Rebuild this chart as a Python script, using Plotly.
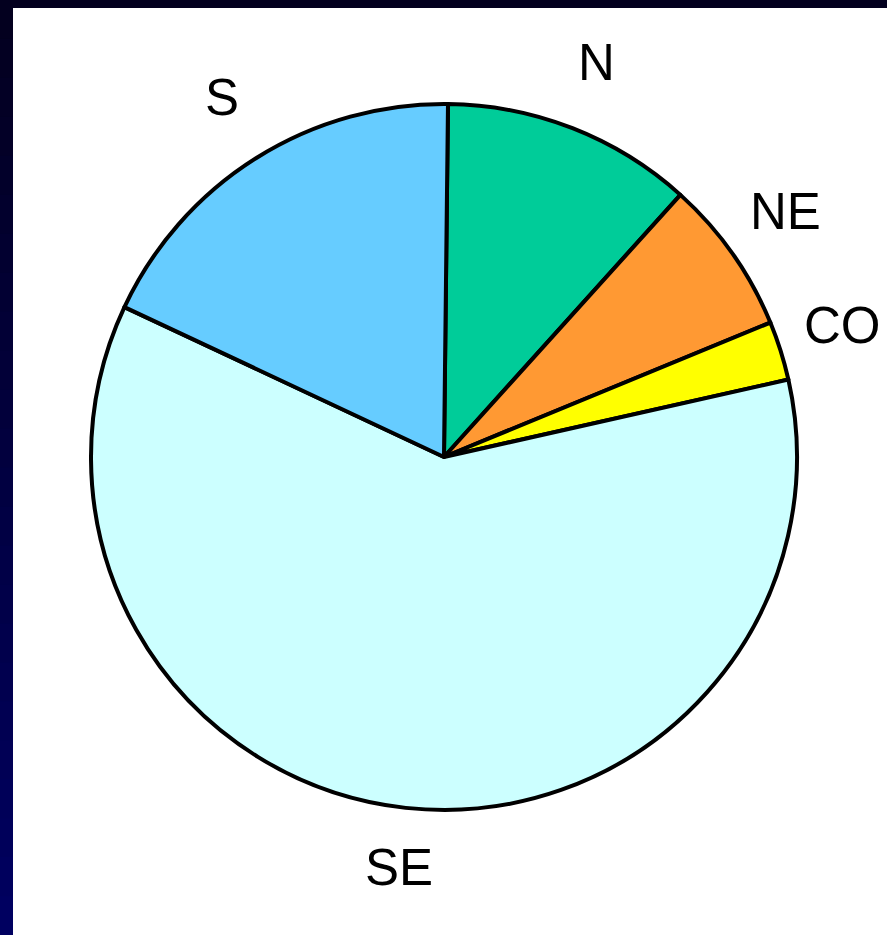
import math
import plotly.graph_objects as go

labels = ["N", "NE", "CO", "SE", "S"]
values = [11.5, 7.1, 2.7, 60.5, 18.2]
colors = ["#00CC99", "#FF9933", "#FFFF00", "#CCFFFF", "#66CCFF"]

W, H = 887, 935
rotation = 0.65
dom_x = [0.1026, 0.8985]
dom_y = [0.1337, 0.8888]

fig = go.Figure(go.Pie(
    labels=labels, values=values, sort=False, direction="clockwise",
    rotation=rotation, textinfo="none", hoverinfo="label+percent",
    marker=dict(colors=colors, line=dict(color="black", width=4)),
    domain=dict(x=dom_x, y=dom_y), showlegend=False,
))

# label annotations placed at slice mid-angles
cx = (dom_x[0] + dom_x[1]) / 2 * W
cy = (dom_y[0] + dom_y[1]) / 2 * H
R = min((dom_x[1] - dom_x[0]) * W, (dom_y[1] - dom_y[0]) * H) / 2
total = sum(values)
start = rotation
annotations = []
for lab, v in zip(labels, values):
    sweep = v / total * 360
    mid = math.radians(start + sweep / 2)
    start += sweep
    px = cx + 1.185 * R * math.sin(mid)
    py = cy + 1.185 * R * math.cos(mid)
    annotations.append(dict(
        x=px / W, y=py / H, xref="paper", yref="paper", text=lab, showarrow=False,
        xanchor="center", yanchor="middle", yshift=5,
        font=dict(family="Liberation Sans, Arial", size=51, color="black"),
    ))

# dark border bars (left gradient approximated by slices, top bar)
shapes = []
n = 24
for i in range(n):
    t = i / (n - 1)
    r = int(round(3 * (1 - t)))
    b = int(round(31 + (96 - 31) * t))
    shapes.append(dict(type="rect", xref="paper", yref="paper", x0=0, x1=13 / W,
                       y0=max(0, 1 - (i + 1) / n - 0.01), y1=1 - i / n,
                       fillcolor=f"rgb({r},0,{b})", line=dict(width=0), layer="below"))
shapes.append(dict(type="rect", xref="paper", yref="paper", x0=0, x1=1, y0=1 - 8 / H, y1=1,
                   fillcolor="#03001F", line=dict(width=0), layer="below"))

fig.update_layout(
    width=W, height=H, margin=dict(l=0, r=0, t=0, b=0),
    paper_bgcolor="white", annotations=annotations, shapes=shapes,
)
fig.write_html("out.html")
